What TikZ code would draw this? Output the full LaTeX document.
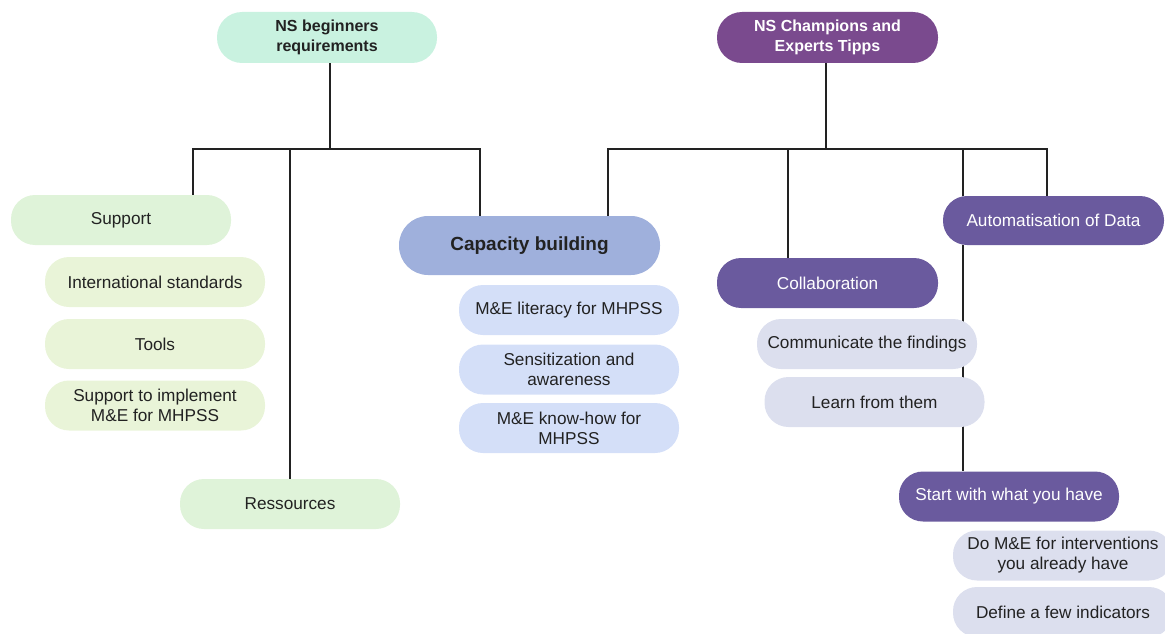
\documentclass[tikz,border=0pt]{standalone}
\usepackage{fontspec}
\setmainfont{Liberation Sans}
\usetikzlibrary{calc}
\pgfdeclarelayer{background}
\pgfsetlayers{background,main}
\definecolor{mint}{HTML}{C9F2E0}
\definecolor{gsup}{HTML}{DFF3D9}
\definecolor{gchild}{HTML}{E9F4D8}
\definecolor{capblue}{HTML}{9FB0DC}
\definecolor{lblue}{HTML}{D4DFF8}
\definecolor{dpurple}{HTML}{7A4A8E}
\definecolor{purple2}{HTML}{6A5A9E}
\definecolor{lav}{HTML}{DCDFEE}
\definecolor{ink}{HTML}{222222}
\tikzset{
  pill/.style={rectangle, rounded corners=24pt, minimum width=220pt, minimum height=50pt,
    inner sep=2pt, align=center, text=ink, font=\fontsize{17.2}{20}\selectfont},
  titlepill/.style={pill, minimum height=51pt, rounded corners=25pt, font=\fontsize{16}{20}\selectfont\bfseries},
  darkpill/.style={pill, fill=purple2, text=white},
  conn/.style={draw=ink, line width=2pt}
}
\begin{document}
\begin{tikzpicture}[x=1pt,y=-1pt]
\useasboundingbox (0,0) rectangle (1165,634);
\begin{scope}
\clip (0,0) rectangle (1165,634);
% left tree
\node[titlepill, fill=mint] (b0) at (327,37.5) {NS beginners\\requirements};
\node[pill, fill=gsup] (sup) at (121,220) {Support};
\node[pill, fill=gchild] (intl) at (155,282) {International standards};
\node[pill, fill=gchild] (tools) at (155,344) {Tools};
\node[pill, fill=gchild] (supimp) at (155,405.5) {Support to implement\\M\&E for MHPSS};
\node[pill, fill=gsup] (res) at (290,504) {Ressources};
\node[pill, fill=capblue, minimum width=261pt, minimum height=59pt, rounded corners=29pt,
  font=\fontsize{19}{22}\selectfont\bfseries] (cap) at (529.5,245.5) {Capacity building};
\node[pill, fill=lblue] (mel) at (569,310) {M\&E literacy for MHPSS};
\node[pill, fill=lblue] (sens) at (569,369.5) {Sensitization and\\awareness};
\node[pill, fill=lblue] (know) at (569,428) {M\&E know-how for\\MHPSS};
% right tree
\node[titlepill, fill=dpurple, text=white, minimum width=221pt] (c0) at (827.5,37.5) {NS Champions and\\Experts Tipps};
\node[darkpill, minimum width=221pt, minimum height=49pt] (auto) at (1053.5,220.5) {Automatisation of Data};
\node[darkpill, minimum width=221pt] (coll) at (827.5,283) {Collaboration};
\node[pill, fill=lav] (comm) at (867,344) {Communicate the findings};
\node[pill, fill=lav] (learn) at (874.5,402) {Learn from them};
\node[darkpill] (start) at (1009,496.5) {Start with what you have};
\node[pill, fill=lav] (dome) at (1063,555.5) {Do M\&E for interventions\\you already have};
\node[pill, fill=lav] (def) at (1063,612) {Define a few indicators};
% bus coordinates
\coordinate (lb) at (330,149);
\coordinate (l1) at (193,149);
\coordinate (l2) at (290,149);
\coordinate (l3) at (480,149);
\coordinate (rb) at (826,149);
\coordinate (r1) at (608,149);
\coordinate (r2) at (788,149);
\coordinate (r3) at (963,149);
\coordinate (r4) at (1047,149);
\begin{pgfonlayer}{background}
\draw[conn] (b0.south -| lb) -- (lb);
\draw[conn] (sup.north -| l1) -- (l1) -- (l3) -- (cap.north -| l3);
\draw[conn] (l2) -- (res.north);
\draw[conn] (c0.south -| rb) -- (rb);
\draw[conn] (cap.north -| r1) -- (r1) -- (r4) -- (auto.north -| r4);
\draw[conn] (r2) -- (coll.north -| r2);
\draw[conn] (r3) -- (auto.north -| r3);
\draw[conn] (auto.south -| r3) -- (start.north -| r3);
\end{pgfonlayer}
\end{scope}
\end{tikzpicture}
\end{document}
